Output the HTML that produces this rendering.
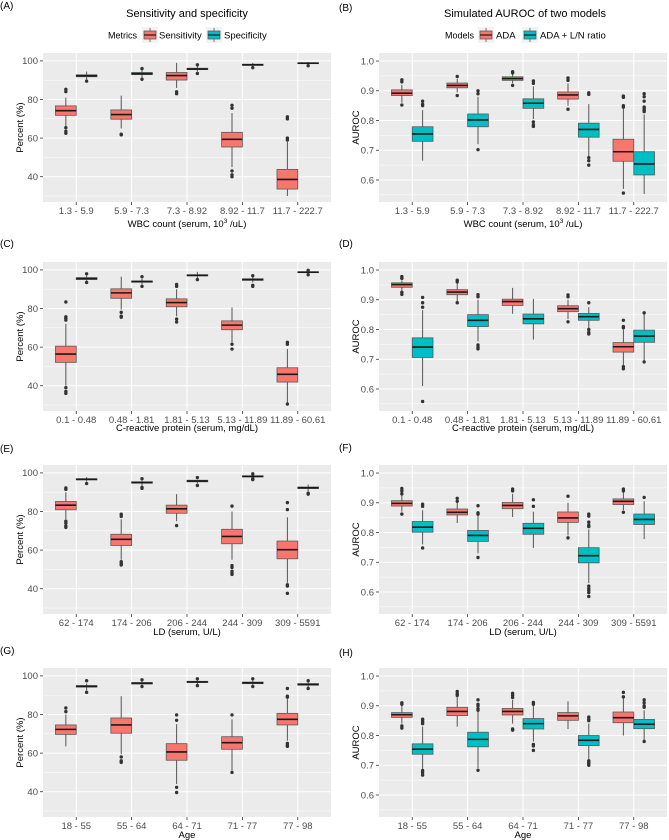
<!DOCTYPE html>
<html><head><meta charset="utf-8">
<style>
html,body{margin:0;padding:0;background:#fff;}
svg{display:block;font-family:"Liberation Sans",Arial,sans-serif;}
</style></head>
<body>
<svg id="fig" width="669" height="840" viewBox="0 0 669 840" xmlns="http://www.w3.org/2000/svg"></svg>
<script>
// ---------- DATA ----------
const catsWBC = ["1.3 - 5.9","5.9 - 7.3","7.3 - 8.92","8.92 - 11.7","11.7 - 222.7"];
const catsCRP = ["0.1 - 0.48","0.48 - 1.81","1.81 - 5.13","5.13 - 11.89","11.89 - 60.61"];
const catsLD  = ["62 - 174","174 - 206","206 - 244","244 - 309","309 - 5591"];
const catsAge = ["18 - 55","55 - 64","64 - 71","71 - 77","77 - 98"];
const percentTicks = [40,60,80,100];
const aurocTicks = [0.6,0.7,0.8,0.9,1.0];

// each box: [lowerWhisker, q1, median, q3, upperWhisker]
const A_sens = [[66,71.8,74.2,76.7,81],[65,69.8,72.2,74.6,82],[86,90.1,92.4,94,99],[45,55.4,59.4,63,73],[30,33.6,38.6,43.8,58]];
const A_sensOut = [[85.3,84.1,65.4,63.5,62.5],[62,61.7],[84,83],[77,75.5,43,41,40],[71,70,60,59]];
const A_spec = [[90.2,91.8,92.3,92.8,94.5],[91.5,92.9,93.4,94,95.2],[94.5,95.5,95.8,96.2,97.5],[97,97.7,98,98.3,99],[98,98.6,98.8,99,99.4]];
const A_specOut = [[89.5],[96,90.5],[98,93.5],[96.5],[97.5]];

const B_ada = [[0.86,0.884,0.892,0.903,0.92],[0.895,0.910,0.918,0.926,0.94],[0.925,0.935,0.941,0.947,0.955],[0.85,0.872,0.886,0.896,0.925],[0.57,0.663,0.695,0.737,0.84]];
const B_adaOut = [[0.937,0.93,0.852],[0.948,0.884],[0.964,0.96,0.918],[0.943,0.935,0.838],[0.882,0.878,0.85,0.845,0.556]];
const B_ln = [[0.665,0.730,0.755,0.779,0.835],[0.72,0.779,0.802,0.822,0.88],[0.805,0.841,0.858,0.873,0.915],[0.68,0.744,0.770,0.791,0.855],[0.553,0.617,0.654,0.695,0.82]];
const B_lnOut = [[0.865,0.855,0.85],[0.9,0.89,0.702],[0.933,0.925,0.795,0.785,0.78],[0.893,0.888,0.675,0.665,0.65],[0.89,0.88,0.865,0.845,0.84,0.835,0.83]];

const C_sens = [[40,52.1,56.4,60.5,72],[79.5,85.3,88.1,90.2,96.5],[76,80.9,83.1,85,90],[62.5,69,71.4,73.6,80.5],[31,41.9,45.9,49.3,59]];
const C_sensOut = [[83.4,75.7,75,74,39,37,36],[78,76,75.5],[92.5,91.5,74.5,73],[61.5,59],[62.5,61.5,30.5]];
const C_spec = [[94,95,95.5,96,97],[92.5,93.6,94,94.3,95.5],[95.8,96.9,97.2,97.5,99],[93.5,94.6,95,95.4,96.5],[98,98.6,98.8,99,99.5]];
const C_specOut = [[98,93.5],[96.5,91.5],[95],[97,92,91.5],[99.8,97.5]];

const D_ada = [[0.93,0.942,0.951,0.957,0.965],[0.895,0.917,0.926,0.934,0.955],[0.853,0.881,0.894,0.902,0.94],[0.835,0.860,0.870,0.880,0.9],[0.675,0.724,0.742,0.756,0.8]];
const D_adaOut = [[0.978,0.972,0.925,0.918],[0.966,0.96,0.89],[],[0.916,0.91,0.826],[0.831,0.81,0.806,0.675,0.668]];
const D_ln = [[0.61,0.706,0.741,0.772,0.865],[0.76,0.81,0.831,0.85,0.9],[0.766,0.819,0.836,0.852,0.903],[0.805,0.831,0.843,0.854,0.875],[0.69,0.757,0.778,0.798,0.853]];
const D_lnOut = [[0.908,0.89,0.875,0.558],[0.917,0.91,0.748,0.74,0.735],[],[0.89,0.8,0.79,0.785],[0.856,0.691]];

const E_sens = [[76,80.9,83.3,85.2,90],[55,62.4,65.6,68.2,76],[75,79.1,81.4,83.3,89],[55,63.3,67.1,70.8,80],[43,55.5,60.2,64.7,77]];
const E_sensOut = [[92.2,91.5,75,74,72.5,71.8],[78.6,77.5,54,53,52.3],[72.7],[82.8,52,51,49,48,47.4],[84.6,81,42,41.4,37.6]];
const E_spec = [[95.5,96.4,96.7,97,97.8],[93,94.7,95,95.4,96],[94.5,95.4,95.8,96.2,96.5],[97.2,97.9,98.2,98.5,99],[90.5,91.9,92.3,92.7,94]];
const E_specOut = [[94.5],[97,92.5,92],[97.6,93.5],[99.5,97,96.5],[89.5,89]];

const F_ada = [[0.87,0.889,0.898,0.907,0.925],[0.832,0.859,0.868,0.879,0.9],[0.852,0.880,0.891,0.901,0.93],[0.79,0.834,0.849,0.869,0.9],[0.875,0.894,0.905,0.913,0.935]];
const F_adaOut = [[0.948,0.94,0.93,0.862],[0.915,0.905],[0.946,0.94],[0.922,0.782],[0.946,0.94,0.868]];
const F_ln = [[0.76,0.801,0.818,0.837,0.875],[0.73,0.770,0.790,0.807,0.86],[0.748,0.794,0.814,0.831,0.87],[0.63,0.698,0.722,0.749,0.81],[0.778,0.827,0.844,0.862,0.905]];
const F_lnOut = [[0.895,0.888,0.748],[0.89,0.866,0.862,0.716],[0.91,0.888],[0.862,0.855,0.835,0.825,0.82,0.62,0.612,0.605,0.598,0.585],[0.918]];

const G_sens = [[63.5,69.7,72.3,74.6,80],[59.5,70.3,74.6,78.2,89.5],[44,56.3,60.6,64.9,75],[51,62,65.4,68.5,77.5],[66.5,74.6,77.5,80.6,88]];
const G_sensOut = [[83.4,81.5],[58,56,55.2],[79.8,77,42.3,39.6],[79.8,50],[93.5,89.5,89,65,64,63.5]];
const G_spec = [[92.5,94.2,94.6,95,96],[95,95.8,96.2,96.6,97.5],[95.8,96.6,96.9,97.2,98],[95.2,96,96.4,96.8,97.8],[94.2,95.2,95.6,96,97]];
const G_specOut = [[97.5,91.5],[98,94.5],[98.5,95],[98.5,94.5],[97.5,93.5]];

const H_ada = [[0.84,0.861,0.870,0.877,0.9],[0.83,0.867,0.881,0.895,0.93],[0.84,0.869,0.881,0.891,0.92],[0.822,0.851,0.866,0.877,0.915],[0.8,0.843,0.860,0.879,0.925]];
const H_adaOut = [[0.91,0.905,0.832,0.825],[0.948,0.94,0.935],[0.942,0.935,0.928,0.822,0.818],[],[0.945,0.93]];
const H_ln = [[0.685,0.737,0.754,0.772,0.83],[0.69,0.762,0.787,0.811,0.88],[0.78,0.822,0.840,0.857,0.9],[0.72,0.766,0.784,0.8,0.84],[0.785,0.823,0.838,0.854,0.885]];
const H_lnOut = [[0.855,0.85,0.845,0.84,0.682,0.675,0.667],[0.92,0.905,0.9,0.89,0.885,0.683],[0.911,0.905,0.77,0.765,0.75],[0.862,0.855,0.85,0.715,0.71,0.705,0.7],[0.92,0.91,0.9,0.895,0.78]];

// ---------- DRAWING ----------
const NS = "http://www.w3.org/2000/svg";
const svg = document.getElementById("fig");
const RED = "#F8766D", TEAL = "#00BFC4";
function mk(tag, attrs, parent, text){
  const e = document.createElementNS(NS, tag);
  for (const k in attrs) e.setAttribute(k, attrs[k]);
  if (text !== undefined) e.textContent = text;
  (parent || svg).appendChild(e);
  return e;
}

const PW = 288, PH = 149;
function panel(cfg){
  const g = mk("g", {});
  
  
  const L = cfg.x, T = cfg.y;
  const yMin = cfg.pct ? 26.9 : 0.526, yMax = cfg.pct ? 104.1 : 1.027;
  const ys = v => T + PH - (v - yMin) / (yMax - yMin) * PH;
  const unit = PW / 5.2;
  const xs = i => L + (i + 0.6) * unit;
  // background
  const bg = mk("rect", {x:L, y:T, width:PW, height:PH, fill:"#EBEBEB"}, g);
  
  
  const ticks = cfg.pct ? percentTicks : aurocTicks;
  const step = ticks[1] - ticks[0];
  // minor grid
  for (let v = ticks[0] - step/2; v < yMax; v += step) {
    if (v < yMin) continue;
    mk("line", {x1:L, x2:L+PW, y1:ys(v), y2:ys(v), stroke:"#fff", "stroke-width":0.5}, g);
  }
  // major grid + y ticks
  ticks.forEach(v => {
    const yy = ys(v);
    mk("line", {x1:L, x2:L+PW, y1:yy, y2:yy, stroke:"#fff", "stroke-width":1}, g);
    mk("line", {x1:L-3, x2:L, y1:yy, y2:yy, stroke:"#333", "stroke-width":0.8}, g);
    const t = mk("text", {x:L-5, y:yy+3.3, "text-anchor":"end", "font-size":9.5, fill:"#4D4D4D"}, g, cfg.pct ? String(v) : v.toFixed(1));
    
    
  });
  // x grid + ticks
  cfg.cats.forEach((c, i) => {
    const xx = xs(i);
    mk("line", {x1:xx, x2:xx, y1:T, y2:T+PH, stroke:"#fff", "stroke-width":1}, g);
    mk("line", {x1:xx, x2:xx, y1:T+PH, y2:T+PH+3, stroke:"#333", "stroke-width":0.8}, g);
    const t = mk("text", {x:xx, y:T+PH+12, "text-anchor":"middle", "font-size":9.5, fill:"#4D4D4D"}, g, c);
    
    
  });
  // boxes
  const bw = 0.375 * unit, off = 0.1875 * unit;
  [[cfg.s1, cfg.o1, RED, -off, "sens"], [cfg.s2, cfg.o2, TEAL, off, "spec"]].forEach(([S, O, col, dx, nm]) => {
    S.forEach((b, i) => {
      const cx = xs(i) + dx;
      const bg2 = mk("g", {}, g);
      
      
      mk("line", {x1:cx, x2:cx, y1:ys(b[4]), y2:ys(b[3]), stroke:"#555", "stroke-width":1}, bg2);
      mk("line", {x1:cx, x2:cx, y1:ys(b[1]), y2:ys(b[0]), stroke:"#555", "stroke-width":1}, bg2);
      mk("rect", {x:cx-bw/2, y:ys(b[3]), width:bw, height:Math.max(0.8, ys(b[1]) - ys(b[3])), fill:col, stroke:"#5a5a5a", "stroke-width":0.8}, bg2);
      mk("line", {x1:cx-bw/2, x2:cx+bw/2, y1:ys(b[2]), y2:ys(b[2]), stroke:"#1a1a1a", "stroke-width":1.6}, bg2);
      O[i].forEach(v => {
        mk("circle", {cx:cx, cy:ys(v), r:1.7, fill:"#333"}, bg2);
      });
    });
  });
  // y title
  const yt = mk("text", {x:0, y:0, "text-anchor":"middle", "font-size":9.5, fill:"#000", transform:`translate(${L-20},${T+PH/2}) rotate(-90)`}, g, cfg.pct ? "Percent (%)" : "AUROC");
  
  
  // x title
  const xt = mk("text", {x:L+PW/2, y:cfg.xty, "text-anchor":"middle", "font-size":9.5, fill:"#000"}, g);
  
  
  if (cfg.sup) {
    mk("tspan", {}, xt, "WBC count (serum,  10");
    mk("tspan", {dy:-4, "font-size":6.5}, xt, "3");
    mk("tspan", {dy:4}, xt, " /uL)");
  } else xt.textContent = cfg.xt;
  // panel label
  const pl = mk("text", {x:cfg.lx, y:cfg.ly, "font-size":10, fill:"#000"}, g, cfg.label);
  
  
}

const LX = 43, RX = 379;
panel({name:"panel-a", x:LX, y:53, pct:true, cats:catsWBC, s1:A_sens, o1:A_sensOut, s2:A_spec, o2:A_specOut, xty:227, sup:true, label:"(A)", lx:0, ly:9});
panel({name:"panel-b", x:RX, y:53, pct:false, cats:catsWBC, s1:B_ada, o1:B_adaOut, s2:B_ln, o2:B_lnOut, xty:227, sup:true, label:"(B)", lx:339, ly:11});
panel({name:"panel-c", x:LX, y:262, pct:true, cats:catsCRP, s1:C_sens, o1:C_sensOut, s2:C_spec, o2:C_specOut, xty:431, xt:"C-reactive protein (serum, mg/dL)", label:"(C)", lx:0, ly:247});
panel({name:"panel-d", x:RX, y:262, pct:false, cats:catsCRP, s1:D_ada, o1:D_adaOut, s2:D_ln, o2:D_lnOut, xty:431, xt:"C-reactive protein (serum, mg/dL)", label:"(D)", lx:339, ly:247});
panel({name:"panel-e", x:LX, y:465, pct:true, cats:catsLD, s1:E_sens, o1:E_sensOut, s2:E_spec, o2:E_specOut, xty:635, xt:"LD (serum, U/L)", label:"(E)", lx:0, ly:452});
panel({name:"panel-f", x:RX, y:465, pct:false, cats:catsLD, s1:F_ada, o1:F_adaOut, s2:F_ln, o2:F_lnOut, xty:635, xt:"LD (serum, U/L)", label:"(F)", lx:339, ly:451});
panel({name:"panel-g", x:LX, y:668, pct:true, cats:catsAge, s1:G_sens, o1:G_sensOut, s2:G_spec, o2:G_specOut, xty:838, xt:"Age", label:"(G)", lx:0, ly:654});
panel({name:"panel-h", x:RX, y:668, pct:false, cats:catsAge, s1:H_ada, o1:H_adaOut, s2:H_ln, o2:H_lnOut, xty:838, xt:"Age", label:"(H)", lx:339, ly:656});

// titles & legends
function title(x, y, s, nm){
  const t = mk("text", {x:x, y:y, "text-anchor":"middle", "font-size":11, fill:"#000"}, svg, s);
  
  
}
title(187, 17, "Sensitivity and specificity", "title-left");
title(525, 17, "Simulated AUROC of two models", "title-right");

function legend(items, x0, nm){
  const g = mk("g", {});
  
  
  items.forEach(it => {
    if (it.key) {
      const k = mk("g", {}, g);
      
      
      mk("rect", {x:it.x, y:27, width:16, height:16, fill:"#F2F2F2"}, k);
      mk("line", {x1:it.x+8, x2:it.x+8, y1:28, y2:42, stroke:"#555", "stroke-width":0.8}, k);
      mk("rect", {x:it.x+2, y:31, width:12, height:8, fill:it.col, stroke:"#5a5a5a", "stroke-width":0.8}, k);
      mk("line", {x1:it.x+2, x2:it.x+14, y1:35, y2:35, stroke:"#1a1a1a", "stroke-width":1.2}, k);
    } else {
      const t = mk("text", {x:it.x, y:38.5, "font-size":it.s ? 9 : 9.5, fill:"#000"}, g, it.t);
      
      
    }
  });
}
legend([{x:108,t:"Metrics",s:1},{x:142,key:1,col:RED},{x:159,t:"Sensitivity"},{x:206,key:1,col:TEAL},{x:224,t:"Specificity"}], 0, "legend-metrics");
legend([{x:445,t:"Models",s:1},{x:478,key:1,col:RED},{x:496,t:"ADA"},{x:522,key:1,col:TEAL},{x:540,t:"ADA + L/N ratio"}], 0, "legend-models");
</script>
</body></html>
